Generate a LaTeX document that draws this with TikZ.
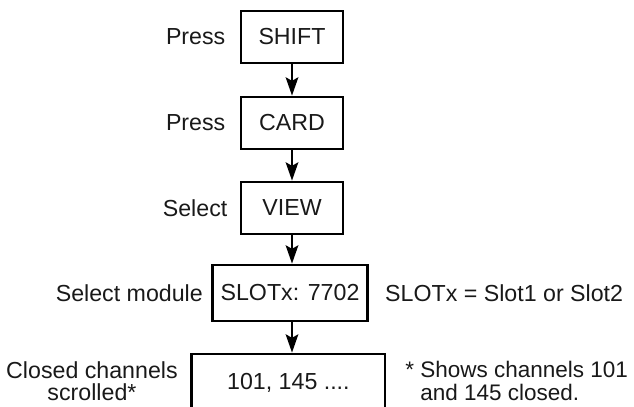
\documentclass[tikz,border=0pt]{standalone}
\usepackage{fontspec}
\setmainfont{Liberation Sans}
\usetikzlibrary{positioning,arrows.meta}

\tikzset{
  keybox/.style={draw, line width=2pt, minimum width=2.55cm, minimum height=1.3cm, inner sep=0pt},
  steptext/.style={inner sep=0pt},
  flow/.style={line width=1.5pt, -{Stealth[length=13pt,width=9pt,inset=2.5pt]}}
}

\begin{document}
\begin{tikzpicture}[font=\fontsize{16.5}{16}\selectfont, text=black!90]
\useasboundingbox (0,0) rectangle (15.85,10.15);
\clip (0,0) rectangle (15.85,10.15);
% key sequence
\node[keybox] (shift) at (7.3,9.225) {SHIFT};
\node[keybox] (card) at (7.3,7.075) {CARD};
\node[keybox] (view) at (7.3,4.95) {VIEW};
\node[keybox, minimum width=3.875cm, minimum height=1.4cm] (slot) at (7.25,2.825) {SLOTx: 7702};
\node[keybox, minimum width=4.825cm, minimum height=1.45cm] (chans) at (7.21,0.575) {101, 145 ....};
% labels
\node[steptext, left=0.35cm of shift] (press1) {Press};
\node[steptext, left=0.35cm of card] (press2) {Press};
\node[steptext, left=0.3cm of view] (select) {Select};
\node[steptext, left=0.2cm of slot] (module) {Select module};
\node[steptext, right=0.4cm of slot] (slotnote) {SLOTx = Slot1 or Slot2};
\node[steptext, align=center, anchor=east] (closed) at (4.45,0.62) {Closed channels\\scrolled*};
\node[steptext, align=left, anchor=west, font=\fontsize{16}{16}\selectfont] (note) at (10.5,0.62) {\llap{* }Shows channels 101\\and 145 closed.};
% arrows
\draw[flow] (shift) -- (card);
\draw[flow] (card) -- (view);
\draw[flow] (view) -- (view |- slot.north);
\draw[flow] (view |- slot.south) -- (view |- chans.north);
\end{tikzpicture}
\end{document}
